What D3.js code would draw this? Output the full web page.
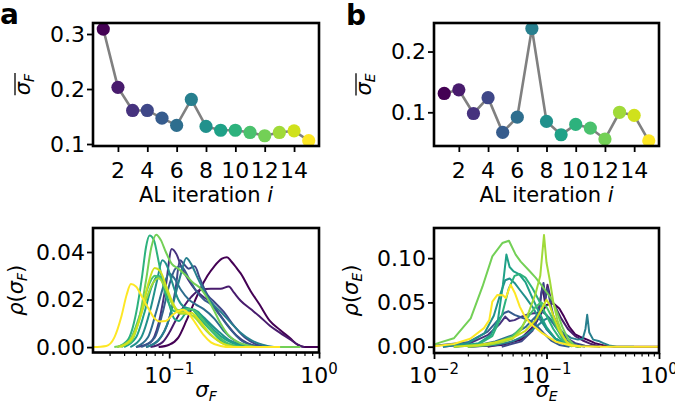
<!DOCTYPE html>
<html>
<head>
<meta charset="utf-8">
<script src="https://cdn.jsdelivr.net/npm/d3@7"></script>
<style>
  body { margin: 0; background: #fff; }
  svg text { font-family: "DejaVu Sans", sans-serif; }
</style>
</head>
<body>
<svg id="fig" width="675" height="402"></svg>
<script>
// AL iterations and the mean uncertainties (top row)
const iterations = d3.range(1, 16);
const iterTicks = [2, 4, 6, 8, 10, 12, 14];
const meanSigmaF = [0.309, 0.203, 0.161, 0.161, 0.147, 0.134, 0.181, 0.132, 0.125, 0.125, 0.121, 0.115, 0.121, 0.124, 0.106];
const meanSigmaE = [0.131, 0.137, 0.098, 0.124, 0.067, 0.092, 0.238, 0.085, 0.063, 0.080, 0.074, 0.056, 0.100, 0.095, 0.053];

// density of sigma_F per iteration, [sigma, rho]
const densF = [
  [[0.085,0],[0.1,0.001],[0.115,0.004],[0.13,0.011],[0.145,0.018],[0.16,0.024],[0.18,0.03],[0.2,0.034],[0.225,0.0372],[0.243,0.0378],[0.26,0.036],[0.28,0.0335],[0.3,0.031],[0.35,0.0235],[0.4,0.018],[0.47,0.011],[0.55,0.0072],[0.64,0.0038],[0.72,0.001],[0.8,0],[1.0,0]],
  [[0.075,0],[0.09,0.002],[0.1,0.006],[0.11,0.011],[0.125,0.017],[0.14,0.021],[0.16,0.024],[0.19,0.0245],[0.22,0.0245],[0.25,0.0255],[0.27,0.023],[0.3,0.0195],[0.35,0.016],[0.4,0.013],[0.47,0.009],[0.55,0.006],[0.65,0.003],[0.72,0.001],[0.8,0]],
  [[0.06,0],[0.075,0.002],[0.085,0.01],[0.095,0.026],[0.104,0.0413],[0.112,0.039],[0.12,0.034],[0.135,0.028],[0.15,0.024],[0.17,0.021],[0.19,0.019],[0.21,0.015],[0.24,0.01],[0.28,0.005],[0.33,0.0018],[0.4,0.0003],[0.5,0]],
  [[0.07,0],[0.085,0.003],[0.1,0.012],[0.11,0.024],[0.118,0.0365],[0.125,0.035],[0.135,0.033],[0.148,0.034],[0.16,0.029],[0.18,0.022],[0.2,0.019],[0.23,0.015],[0.27,0.009],[0.32,0.004],[0.38,0.0012],[0.45,0]],
  [[0.065,0],[0.08,0.004],[0.09,0.014],[0.1,0.026],[0.11,0.033],[0.12,0.034],[0.135,0.029],[0.15,0.024],[0.17,0.02],[0.19,0.018],[0.22,0.013],[0.26,0.007],[0.3,0.003],[0.36,0.0008],[0.42,0]],
  [[0.06,0],[0.072,0.004],[0.082,0.015],[0.092,0.026],[0.1,0.031],[0.108,0.029],[0.12,0.024],[0.135,0.02],[0.15,0.018],[0.17,0.016],[0.2,0.012],[0.23,0.007],[0.27,0.003],[0.32,0.0008],[0.38,0]],
  [[0.07,0],[0.085,0.003],[0.1,0.012],[0.11,0.022],[0.12,0.031],[0.13,0.0375],[0.14,0.035],[0.155,0.029],[0.17,0.024],[0.19,0.019],[0.22,0.015],[0.26,0.01],[0.3,0.006],[0.35,0.003],[0.42,0.001],[0.5,0]],
  [[0.055,0],[0.065,0.004],[0.075,0.016],[0.083,0.028],[0.09,0.0365],[0.097,0.034],[0.105,0.027],[0.115,0.02],[0.125,0.017],[0.14,0.016],[0.16,0.014],[0.18,0.011],[0.21,0.007],[0.25,0.003],[0.3,0.001],[0.36,0]],
  [[0.05,0],[0.06,0.004],[0.068,0.014],[0.076,0.025],[0.084,0.03],[0.092,0.027],[0.1,0.018],[0.108,0.012],[0.116,0.011],[0.128,0.014],[0.14,0.016],[0.155,0.015],[0.175,0.011],[0.2,0.007],[0.24,0.003],[0.29,0.0008],[0.35,0]],
  [[0.045,0],[0.053,0.003],[0.06,0.014],[0.066,0.03],[0.07,0.042],[0.074,0.0469],[0.079,0.045],[0.085,0.036],[0.092,0.025],[0.1,0.018],[0.11,0.015],[0.125,0.016],[0.14,0.016],[0.16,0.012],[0.19,0.007],[0.23,0.002],[0.28,0.0005],[0.35,0]],
  [[0.048,0],[0.056,0.004],[0.064,0.014],[0.072,0.025],[0.08,0.03],[0.088,0.029],[0.097,0.023],[0.108,0.017],[0.12,0.015],[0.135,0.016],[0.15,0.015],[0.17,0.011],[0.2,0.006],[0.24,0.002],[0.3,0]],
  [[0.043,0],[0.055,0.002],[0.063,0.012],[0.07,0.028],[0.076,0.042],[0.082,0.0473],[0.088,0.045],[0.095,0.04],[0.104,0.035],[0.115,0.033],[0.13,0.03],[0.145,0.027],[0.16,0.025],[0.178,0.021],[0.197,0.016],[0.22,0.01],[0.245,0.0055],[0.28,0.0025],[0.33,0.0008],[0.4,0],[0.75,0]],
  [[0.045,0],[0.055,0.003],[0.062,0.01],[0.07,0.02],[0.078,0.027],[0.085,0.029],[0.094,0.025],[0.105,0.018],[0.118,0.014],[0.13,0.014],[0.145,0.013],[0.165,0.009],[0.19,0.005],[0.23,0.0015],[0.28,0]],
  [[0.047,0],[0.057,0.004],[0.065,0.014],[0.072,0.026],[0.08,0.0333],[0.087,0.032],[0.095,0.026],[0.105,0.019],[0.115,0.015],[0.128,0.0145],[0.14,0.0145],[0.16,0.011],[0.185,0.006],[0.22,0.002],[0.27,0]],
  [[0.031,0],[0.038,0.0005],[0.043,0.004],[0.048,0.013],[0.052,0.022],[0.0555,0.0265],[0.06,0.0255],[0.066,0.021],[0.073,0.016],[0.08,0.012],[0.087,0.0108],[0.095,0.011],[0.105,0.0135],[0.115,0.0152],[0.124,0.0157],[0.135,0.014],[0.15,0.01],[0.17,0.005],[0.19,0.002],[0.22,0.0005],[0.26,0],[0.55,0]]
];

// density of sigma_E per iteration, [sigma, rho]
const densE = [
  [[0.02,0],[0.04,0.002],[0.06,0.008],[0.075,0.02],[0.09,0.038],[0.1,0.047],[0.115,0.049],[0.13,0.043],[0.143,0.034],[0.16,0.022],[0.18,0.014],[0.2,0.011],[0.23,0.008],[0.27,0.004],[0.33,0.0012],[0.4,0],[1.0,0]],
  [[0.03,0],[0.045,0.004],[0.06,0.01],[0.075,0.022],[0.085,0.04],[0.092,0.068],[0.097,0.05],[0.102,0.07],[0.11,0.052],[0.12,0.045],[0.135,0.032],[0.155,0.02],[0.18,0.012],[0.21,0.007],[0.25,0.003],[0.3,0]],
  [[0.012,0],[0.02,0.003],[0.03,0.013],[0.038,0.025],[0.043,0.034],[0.047,0.029],[0.052,0.03],[0.06,0.034],[0.07,0.037],[0.08,0.038],[0.09,0.032],[0.1,0.02],[0.12,0.009],[0.15,0.002],[0.2,0]],
  [[0.04,0],[0.06,0.006],[0.075,0.018],[0.085,0.035],[0.09,0.06],[0.094,0.072],[0.098,0.055],[0.102,0.066],[0.108,0.05],[0.115,0.035],[0.13,0.02],[0.15,0.01],[0.18,0.004],[0.22,0.001],[0.3,0]],
  [[0.01,0.001],[0.02,0.005],[0.03,0.017],[0.037,0.03],[0.042,0.038],[0.046,0.04],[0.052,0.036],[0.06,0.033],[0.07,0.03],[0.08,0.025],[0.095,0.015],[0.11,0.007],[0.13,0.002],[0.16,0]],
  [[0.015,0],[0.025,0.002],[0.035,0.006],[0.05,0.013],[0.065,0.022],[0.08,0.034],[0.09,0.04],[0.1,0.036],[0.115,0.026],[0.13,0.016],[0.15,0.007],[0.18,0.002],[0.22,0]],
  [[0.02,0],[0.035,0.002],[0.05,0.006],[0.065,0.013],[0.08,0.022],[0.095,0.03],[0.105,0.033],[0.12,0.025],[0.14,0.016],[0.165,0.01],[0.19,0.008],[0.21,0.009],[0.222,0.02],[0.23,0.036],[0.24,0.016],[0.26,0.008],[0.29,0.0065],[0.32,0.004],[0.36,0.0015],[0.42,0],[0.6,0]],
  [[0.012,0],[0.02,0.004],[0.028,0.015],[0.034,0.035],[0.039,0.06],[0.043,0.075],[0.047,0.077],[0.052,0.072],[0.058,0.064],[0.065,0.056],[0.075,0.045],[0.085,0.033],[0.1,0.02],[0.12,0.009],[0.15,0.003],[0.2,0]],
  [[0.015,0],[0.025,0.004],[0.032,0.013],[0.037,0.03],[0.041,0.07],[0.044,0.104],[0.047,0.09],[0.051,0.085],[0.057,0.082],[0.065,0.073],[0.075,0.055],[0.085,0.04],[0.1,0.022],[0.12,0.009],[0.15,0.002],[0.2,0]],
  [[0.015,0],[0.025,0.003],[0.033,0.012],[0.04,0.035],[0.046,0.065],[0.052,0.08],[0.058,0.082],[0.065,0.078],[0.075,0.066],[0.085,0.053],[0.1,0.035],[0.115,0.02],[0.13,0.01],[0.15,0.003],[0.2,0]],
  [[0.02,0],[0.035,0.004],[0.05,0.012],[0.06,0.022],[0.07,0.035],[0.08,0.045],[0.09,0.05],[0.1,0.045],[0.11,0.035],[0.125,0.02],[0.14,0.008],[0.16,0.002],[0.2,0]],
  [[0.01,0.002],[0.0107,0.0038],[0.015,0.0095],[0.0212,0.032],[0.027,0.068],[0.033,0.102],[0.0405,0.117],[0.0464,0.1196],[0.0532,0.104],[0.059,0.096],[0.07,0.086],[0.08,0.078],[0.092,0.068],[0.112,0.053],[0.125,0.038],[0.138,0.0226],[0.155,0.009],[0.175,0.002],[0.2,0]],
  [[0.02,0],[0.03,0.002],[0.04,0.005],[0.05,0.009],[0.06,0.02],[0.07,0.04],[0.08,0.06],[0.088,0.08],[0.095,0.126],[0.1,0.095],[0.107,0.075],[0.115,0.05],[0.125,0.03],[0.14,0.012],[0.155,0.003],[0.17,0]],
  [[0.015,0],[0.025,0.002],[0.035,0.005],[0.05,0.01],[0.065,0.018],[0.08,0.03],[0.09,0.042],[0.1,0.053],[0.106,0.048],[0.115,0.035],[0.13,0.018],[0.15,0.006],[0.17,0.001],[0.2,0]],
  [[0.01,0.0005],[0.015,0.003],[0.021,0.009],[0.0278,0.021],[0.031,0.03],[0.033,0.051],[0.0366,0.0585],[0.041,0.058],[0.0434,0.055],[0.048,0.07],[0.0526,0.06],[0.058,0.045],[0.063,0.036],[0.07,0.028],[0.077,0.023],[0.09,0.016],[0.101,0.012],[0.121,0.0057],[0.158,0.002],[0.2,0.0005],[0.3,0],[1.0,0]]
];

const svg = d3.select('#fig');
const color = i => d3.interpolateViridis(i / 14);
const FS = 21, TFS = 22, SUB = 14;

function clip(id, l, t, r, b) {
  svg.append('clipPath').attr('id', id).append('rect')
    .attr('x', l).attr('y', t).attr('width', r - l).attr('height', b - t);
}

function frame(l, t, r, b) {
  svg.append('rect').attr('x', l).attr('y', t).attr('width', r - l).attr('height', b - t)
    .attr('fill', 'none').attr('stroke', '#000').attr('stroke-width', 2.6);
}

function yAxis(y, left, ticks, fmt) {
  const g = svg.append('g').attr('transform', `translate(${left},0)`)
    .call(d3.axisLeft(y).tickValues(ticks).tickFormat(d3.format(fmt)).tickSize(6).tickPadding(2));
  g.select('.domain').remove();
  g.selectAll('line').attr('stroke-width', 1.8);
  g.selectAll('text').attr('font-size', TFS).attr('font-family', '"DejaVu Sans", sans-serif').attr('fill', '#000');
}

// label such as sigma_F, rho(sigma_F)
function mathLabel(parent, pre, sub, post) {
  const t = parent.append('text').attr('font-size', FS).attr('text-anchor', 'middle');
  if (pre) t.append('tspan').attr('font-style', 'italic').text(pre);
  if (pre) t.append('tspan').text('(');
  t.append('tspan').attr('font-style', 'italic').text('σ');
  t.append('tspan').attr('font-style', 'italic').attr('font-size', SUB).attr('dy', 4).text(sub);
  if (post) t.append('tspan').attr('dy', -4).text(post);
  return t;
}

function topPanel(o) {
  const x = d3.scaleLinear().domain([0.3, 15.7]).range([o.l, o.r]);
  const y = d3.scaleLinear().domain(o.ydom).range([o.b, o.t]);
  clip(o.id, o.l, o.t, o.r, o.b);

  const gx = svg.append('g').attr('transform', `translate(0,${o.b})`)
    .call(d3.axisBottom(x).tickValues(iterTicks).tickSize(6).tickFormat(''));
  gx.select('.domain').remove();
  gx.selectAll('line').attr('stroke-width', 1.8);
  svg.append('g').selectAll('text').data(iterTicks).join('text')
    .attr('x', d => x(d)).attr('y', o.b + 32).attr('text-anchor', 'middle')
    .attr('font-size', TFS).text(d => d);
  yAxis(y, o.l, o.yticks, '.1f');

  const g = svg.append('g').attr('clip-path', `url(#${o.id})`);
  g.append('path').datum(o.vals)
    .attr('d', d3.line().x((d, i) => x(iterations[i])).y(d => y(d)))
    .attr('fill', 'none').attr('stroke', '#808080').attr('stroke-width', 2.6);
  g.selectAll('circle').data(o.vals).join('circle')
    .attr('cx', (d, i) => x(iterations[i])).attr('cy', d => y(d)).attr('r', 6.6)
    .attr('fill', (d, i) => color(i));

  const xl = svg.append('text').attr('x', (o.l + o.r) / 2).attr('y', o.b + 56)
    .attr('text-anchor', 'middle').attr('font-size', FS);
  xl.append('tspan').text('AL iteration ');
  xl.append('tspan').attr('font-style', 'italic').text('i');

  const yg = svg.append('g').attr('transform', `translate(${o.ylab},${(o.t + o.b) / 2}) rotate(-90)`);
  const lab = mathLabel(yg, null, o.sub, null);
  const bb = lab.node().getBBox();
  yg.append('line').attr('x1', bb.x).attr('x2', bb.x + bb.width)
    .attr('y1', -15).attr('y2', -15).attr('stroke', '#000').attr('stroke-width', 1.3);

  frame(o.l, o.t, o.r, o.b);
}

function densPanel(o) {
  const x = d3.scaleLog().domain(o.xdom).range([o.l, o.r]);
  const y = d3.scaleLinear().domain(o.ydom).range([o.b, o.t]);
  clip(o.id, o.l, o.t, o.r, o.b);

  const major = o.majors;
  const minor = [];
  for (let p = -3; p < 0; p++)
    for (let k = 2; k <= 9; k++) {
      const v = k * Math.pow(10, p);
      if (v >= o.xdom[0] && v <= o.xdom[1]) minor.push(v);
    }
  const gM = svg.append('g').attr('transform', `translate(0,${o.b})`)
    .call(d3.axisBottom(x).tickValues(major).tickSize(6).tickFormat(''));
  gM.select('.domain').remove();
  gM.selectAll('line').attr('stroke-width', 1.8);
  const gm = svg.append('g').attr('transform', `translate(0,${o.b})`)
    .call(d3.axisBottom(x).tickValues(minor).tickSize(3.5).tickFormat(''));
  gm.select('.domain').remove();
  gm.selectAll('line').attr('stroke-width', 1.2);

  const tl = svg.append('g').selectAll('text').data(major).join('text')
    .attr('x', d => x(d)).attr('y', o.b + 30).attr('text-anchor', 'middle').attr('font-size', TFS);
  tl.append('tspan').text('10');
  tl.append('tspan').attr('font-size', SUB + 1).attr('dy', -9)
    .text(d => { const e = Math.round(Math.log10(d)); return e < 0 ? '\u2212' + (-e) : String(e); });

  yAxis(y, o.l, o.yticks, '.2f');

  const line = d3.line().x(d => x(d[0])).y(d => y(d[1])).curve(o.curve);
  svg.append('g').attr('clip-path', `url(#${o.id})`)
    .selectAll('path').data(o.dens).join('path')
    .attr('d', line).attr('fill', 'none')
    .attr('stroke', (d, i) => color(i)).attr('stroke-width', 2)
    .attr('stroke-linejoin', 'round');

  const xg = svg.append('g').attr('transform', `translate(${(o.l + o.r) / 2},${o.b + 44})`);
  mathLabel(xg, null, o.sub, null);

  const yg = svg.append('g').attr('transform', `translate(${o.ylab},${(o.t + o.b) / 2}) rotate(-90)`);
  mathLabel(yg, 'ρ', o.sub, ')');

  frame(o.l, o.t, o.r, o.b);
}

topPanel({ id: 'ca', l: 93, r: 319, t: 23, b: 146, ydom: [0.0964, 0.32], yticks: [0.1, 0.2, 0.3],
  vals: meanSigmaF, sub: 'F', ylab: 30 });
topPanel({ id: 'cb', l: 434, r: 659, t: 23, b: 146, ydom: [0.0445, 0.247], yticks: [0.1, 0.2],
  vals: meanSigmaE, sub: 'E', ylab: 371 });
densPanel({ id: 'cc', l: 93, r: 319, t: 228, b: 352.5, xdom: [0.031, 1], majors: [0.1, 1],
  ydom: [-0.00227, 0.0501], yticks: [0, 0.02, 0.04], dens: densF, sub: 'F', ylab: 23,
  curve: d3.curveMonotoneX });
densPanel({ id: 'cd', l: 434, r: 659, t: 228, b: 353, xdom: [0.01, 1], majors: [0.01, 0.1, 1],
  ydom: [-0.0071, 0.134], yticks: [0, 0.05, 0.10], dens: densE, sub: 'E', ylab: 358,
  curve: d3.curveLinear });

svg.append('text').attr('x', 0).attr('y', 24).attr('font-size', 28).attr('font-weight', 'bold').text('a');
svg.append('text').attr('x', 346).attr('y', 25).attr('font-size', 28).attr('font-weight', 'bold').text('b');
</script>
</body>
</html>
